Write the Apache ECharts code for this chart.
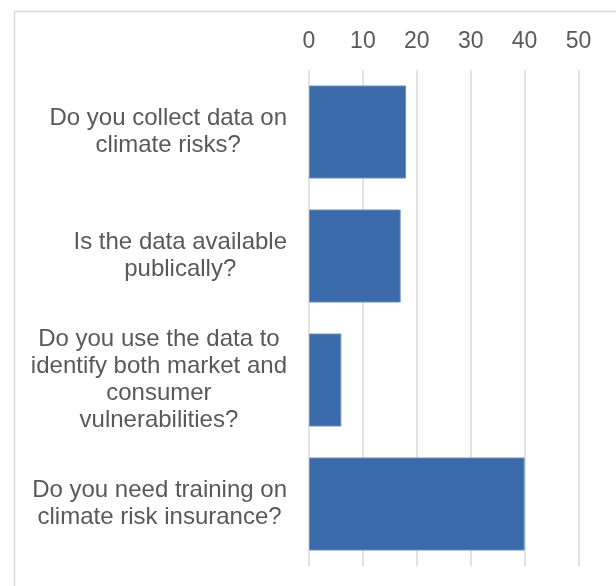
<!DOCTYPE html>
<html>
<head>
<meta charset="utf-8">
<script src="https://cdn.jsdelivr.net/npm/echarts@6/dist/echarts.min.js"></script>
<style>
html,body{margin:0;padding:0;background:#fff;}
#c{width:616px;height:586px;}
</style>
</head>
<body>
<div id="c"></div>
<script>
var categories = [
  "Do you collect data on\nclimate risks?",
  "Is the data available\npublically?",
  "Do you use the data to\nidentify both market and\nconsumer\nvulnerabilities?",
  "Do you need training on\nclimate risk insurance?"
];
var values = [18, 17, 6, 40];
var tickMin = 0, tickMax = 50, tickStep = 10;

var FONT = '"Liberation Sans", Arial, sans-serif';
var chart = echarts.init(document.getElementById('c'), null, {renderer: 'canvas'});
chart.setOption({
  animation: false,
  backgroundColor: '#ffffff',
  textStyle: {fontFamily: FONT},
  graphic: [{
    type: 'rect',
    shape: {x: 14.5, y: 11.5, width: 700, height: 700},
    style: {fill: 'none', stroke: '#d9d9d9', lineWidth: 1.5},
    silent: true
  }],
  grid: {left: 309, right: 616 - 578.5, top: 70, bottom: 20, containLabel: false},
  xAxis: {
    type: 'value',
    position: 'top',
    min: tickMin, max: tickMax, interval: tickStep,
    axisLine: {show: false},
    axisTick: {show: false},
    axisLabel: {color: '#595959', fontSize: 23, margin: 17, fontFamily: FONT},
    splitLine: {show: true, lineStyle: {color: '#d9d9d9', width: 1.5}}
  },
  yAxis: {
    type: 'category',
    inverse: true,
    data: categories,
    axisLine: {show: false},
    axisTick: {show: false},
    splitLine: {show: false},
    axisLabel: {
      color: '#595959', fontSize: 24, lineHeight: 27,
      align: 'right', margin: 22, fontFamily: FONT,
      formatter: function (v) {
        return v.split('\n').map(function (s) { return '{c|' + s + '}'; }).join('\n');
      },
      rich: {
        c: {color: '#595959', fontSize: 24, lineHeight: 27, align: 'center', fontFamily: FONT}
      }
    }
  },
  series: [{
    type: 'bar',
    data: values,
    barCategoryGap: '25%',
    itemStyle: {color: '#3a6aa9', borderColor: '#6a8fc4', borderWidth: 1}
  }]
});
</script>
</body>
</html>
